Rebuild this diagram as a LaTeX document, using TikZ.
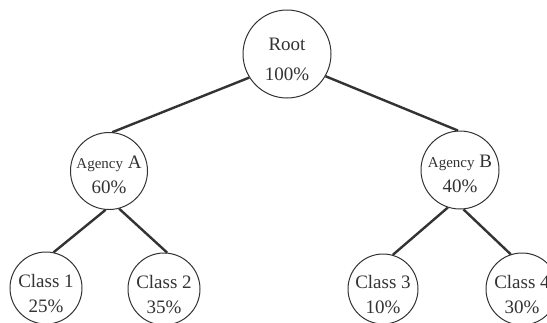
\documentclass[tikz,border=0pt]{standalone}
\usepackage{fontspec}
\setmainfont{Liberation Serif}
\definecolor{ink}{HTML}{333333}
\begin{document}
\begin{tikzpicture}[x=1pt,y=-1pt,
  ring/.style={circle, draw=ink, line width=1pt, inner sep=0pt},
  caption/.style={align=center, inner sep=0pt, text=ink,
    font=\fontsize{19}{25}\selectfont},
  link/.style={draw=ink, line width=2.4pt}]
  \clip (0,0) rectangle (547,322);
  \fill[white] (0,0) rectangle (547,322);
  % tree nodes
  \node[ring, minimum size=88pt] (root) at (287,54) {};
  \node[ring, minimum size=77pt] (agA) at (109,171) {};
  \node[ring, minimum size=78pt] (agB) at (460,170) {};
  \node[ring, minimum size=72pt] (c1) at (46,288) {};
  \node[ring, minimum size=72pt] (c2) at (164,289) {};
  \node[ring, minimum size=70pt] (c3) at (383,289) {};
  \node[ring, minimum size=72pt] (c4) at (522,289) {};
  % node texts
  \node[caption, font=\fontsize{19}{30}\selectfont] (rootT) at ([yshift=-5pt]root.center) {Root\\100\%};
  \node[caption] (agAT) at ([yshift=-4pt]agA.center) {{\fontsize{15}{25}\selectfont Agency} A\\60\%};
  \node[caption] (agBT) at ([yshift=-4pt]agB.center) {{\fontsize{15}{25}\selectfont Agency} B\\40\%};
  \node[caption] (c1T) at ([yshift=-6pt]c1.center) {Class 1\\25\%};
  \node[caption] (c2T) at ([yshift=-6pt]c2.center) {Class 2\\35\%};
  \node[caption] (c3T) at ([yshift=-6pt]c3.center) {Class 3\\10\%};
  \node[caption] (c4T) at ([yshift=-6pt]c4.center) {Class 4\\30\%};
  % branches
  \draw[link] (root.212) -- (agA.85);
  \draw[link] (root.330) -- (agB.93);
  \draw[link] (agA.265) -- (c1.78);
  \draw[link] (agA.285) -- (c2.85);
  \draw[link] (agB.252) -- (c3.74);
  \draw[link] (agB.275) -- (c4.108);
\end{tikzpicture}
\end{document}
